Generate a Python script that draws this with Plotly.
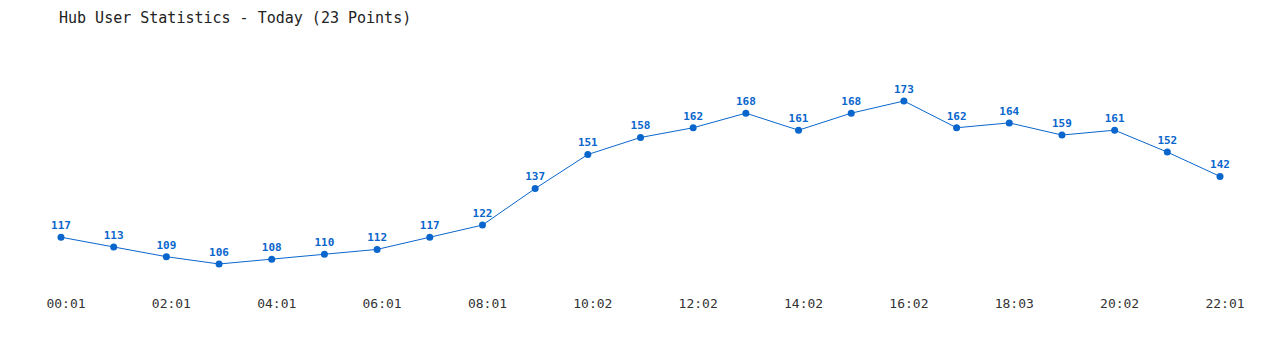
import plotly.graph_objects as go

times = ["00:01", "01:01", "02:01", "03:01", "04:01", "05:01", "06:01", "07:01",
         "08:01", "09:01", "10:02", "11:02", "12:02", "13:02", "14:02", "15:02",
         "16:02", "17:02", "18:03", "19:02", "20:02", "21:02", "22:01"]
users = [117, 113, 109, 106, 108, 110, 112, 117, 122, 137, 151, 158, 162, 168,
         161, 168, 173, 162, 164, 159, 161, 152, 142]
tick_labels = times[::2]

blue = "#0a66cc"
fig = go.Figure(go.Scatter(
    x=times, y=users, mode="lines+markers+text",
    line=dict(color=blue, width=1),
    marker=dict(color=blue, size=7),
    text=[str(v) for v in users], textposition="top center",
    textfont=dict(family="DejaVu Sans Mono", size=11, color=blue, weight="bold"),
    cliponaxis=False, hoverinfo="x+y",
))
fig.update_layout(
    width=1280, height=350,
    margin=dict(l=0, r=0, t=40, b=60),
    paper_bgcolor="white", plot_bgcolor="white",
    title=dict(text="Hub User Statistics - Today (23 Points)", x=59/1280, xanchor="left",
               y=1-18/350, yanchor="middle",
               font=dict(family="DejaVu Sans Mono", size=15, color="#222")),
    showlegend=False,
)
fig.update_xaxes(type="category", range=[-61/52.68, 22 + 60/52.68],
                 tickvals=tick_labels, ticktext=tick_labels,
                 ticklabelshift=5, ticklabelstandoff=4,
                 showgrid=False, zeroline=False, showline=False, ticks="",
                 tickfont=dict(family="DejaVu Sans Mono", size=13, color="#333"))
fig.update_yaxes(range=[95.31, 198.07], visible=False)
fig.write_html("out.html")
